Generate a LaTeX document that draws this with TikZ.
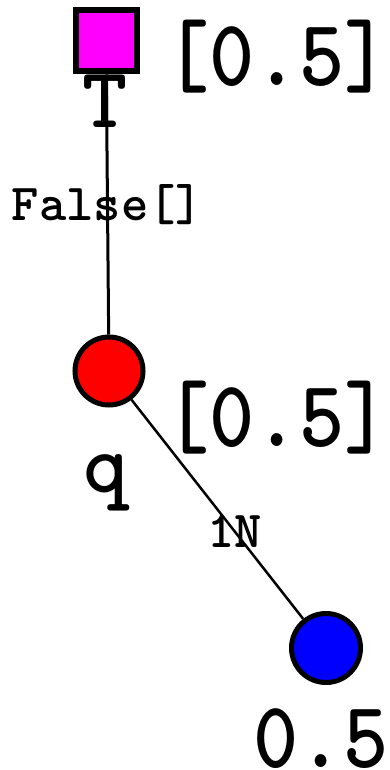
\documentclass[tikz,border=0pt]{standalone}
\usepackage{fontspec}
\definecolor{pmag}{RGB}{255,0,255}
\definecolor{pred}{RGB}{255,0,0}
\definecolor{pblue}{RGB}{0,0,255}
\begin{document}
\begin{tikzpicture}[x=1pt,y=-1pt,
  big/.style={font=\ttfamily\bfseries\fontsize{86}{86}\selectfont, inner sep=0pt},
  small/.style={font=\ttfamily\bfseries\fontsize{52}{52}\selectfont, inner sep=0pt},
  vert/.style={draw=black, line width=3pt},
  conn/.style={draw=black, line width=2.5pt}]
\useasboundingbox (0,0) rectangle (390,770);
\node[draw=black, line width=6pt, fill=pmag, minimum size=61pt, inner sep=0pt] (T) at (106,41) {};
\node[circle, draw=black, line width=5pt, fill=pred, minimum size=68pt, inner sep=0pt] (q) at (109,371) {};
\node[circle, draw=black, line width=5pt, fill=pblue, minimum size=69pt, inner sep=0pt] (b) at (326,648) {};
\draw[vert] (T) -- (q) node[pos=0.5, small] (lf) {False[]};
\draw[conn] (q) -- (b) node[pos=0.6, small] (ln) {1N};
\node[big, anchor=base] (lT) at (105,128) {T};
\node[big, anchor=base] (lq) at (106,492) {q};
\node[big, anchor=base west, yscale=1.1] (v1) at (164,86) {[0.5]};
\node[big, anchor=base west, yscale=1.1] (v2) at (164,446) {[0.5]};
\node[big, anchor=base west, yscale=1.1] (v3) at (253,767) {0.5};
\end{tikzpicture}
\end{document}
